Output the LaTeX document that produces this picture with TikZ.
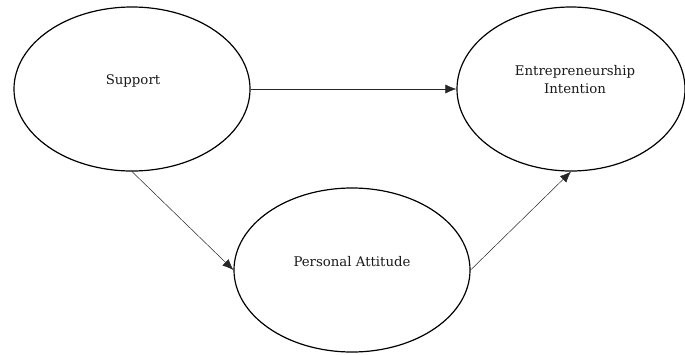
\documentclass[tikz,border=0pt]{standalone}
\usepackage{fontspec}
\setmainfont{DejaVu Serif}
\usetikzlibrary{shapes.geometric,arrows.meta}
\begin{document}
\begin{tikzpicture}[x=1pt,y=-1pt,
  bubble/.style={draw=black,line width=1.2pt,ellipse,inner sep=0pt,minimum width=236pt,minimum height=164pt},
  lbl/.style={font=\fontsize{13.3}{18}\selectfont,align=center,text=black!90},
  conn/.style={draw=black!85,line width=0.5pt,-{Latex[length=11pt,width=9pt]}}]
\useasboundingbox (0,0) rectangle (685,354);
\node[bubble] (sup) at (132,89) {};
\node[bubble,minimum width=228pt] (ei) at (571,89) {};
\node[bubble] (pa) at (352,270) {};
\node[lbl] (tsup) at (133,81) {Support};
\node[lbl] (tei) at (575,80) {Entrepreneurship\\Intention};
\node[lbl] (tpa) at (352,262) {Personal Attitude};
\draw[conn] (sup.east) -- (ei.west);
\draw[conn] (sup.south) -- (pa.west);
\draw[conn] (pa.east) -- (ei.south);
\end{tikzpicture}
\end{document}
